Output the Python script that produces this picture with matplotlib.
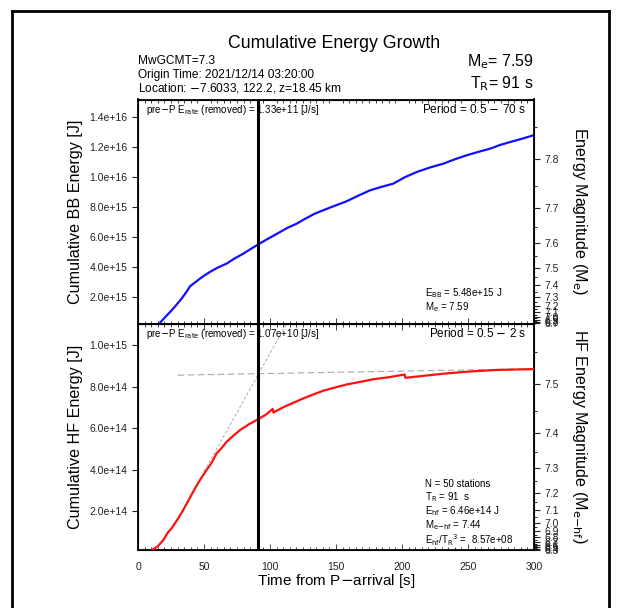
import numpy as np
import matplotlib
matplotlib.use("Agg")
import matplotlib.pyplot as plt
from matplotlib.lines import Line2D

plt.rcParams['font.family'] = ['Liberation Sans', 'DejaVu Sans']
plt.rcParams['axes.unicode_minus'] = True

# ---- data ----
bb_t = [16.2, 20.0, 25.5, 29.0, 33.0, 36.5, 39.4, 44.4, 49.0, 54.5, 60.0, 67.2, 73.0, 79.8,
        85.0, 91.2, 99.0, 107.6, 113.0, 120.2, 127.0, 134.0, 146.0, 158.0, 167.0, 175.7,
        184.0, 193.4, 202.0, 211.0, 221.0, 231.3, 240.0, 249.0, 258.0, 266.7, 274.0,
        281.8, 290.0, 299.5]
bb_e = [2.5e14, 6.2e14, 1.13e15, 1.48e15, 1.91e15, 2.33e15, 2.73e15, 3.07e15, 3.38e15,
        3.69e15, 3.96e15, 4.25e15, 4.58e15, 4.91e15, 5.20e15, 5.53e15, 5.93e15, 6.35e15,
        6.62e15, 6.91e15, 7.25e15, 7.58e15, 8.0e15, 8.40e15, 8.78e15, 9.13e15, 9.35e15,
        9.58e15, 1.0e16, 1.035e16, 1.065e16, 1.091e16, 1.12e16, 1.147e16, 1.17e16,
        1.191e16, 1.215e16, 1.235e16, 1.255e16, 1.28e16]

hf_t = [10.4, 15.0, 19.2, 22.5, 25.5, 30.0, 34.3, 39.0, 43.2, 47.5, 52.0, 55.5, 59.6,
        63.5, 67.2, 72.0, 77.3, 84.0, 91.2, 97.0, 102.0, 102.6, 110.0, 117.0, 125.3,
        132.0, 140.4, 149.0, 158.0, 168.0, 178.0, 190.0, 202.0, 202.6, 211.0, 221.0,
        233.0, 246.0, 258.0, 271.7, 285.0, 299.5]
hf_e = [1.2e13, 3.0e13, 6.0e13, 9.5e13, 1.17e14, 1.6e14, 2.05e14, 2.6e14, 3.09e14,
        3.55e14, 3.98e14, 4.3e14, 4.78e14, 5.05e14, 5.34e14, 5.62e14, 5.90e14, 6.18e14,
        6.43e14, 6.65e14, 6.92e14, 6.75e14, 7.0e14, 7.2e14, 7.43e14, 7.6e14, 7.8e14,
        7.95e14, 8.1e14, 8.22e14, 8.35e14, 8.45e14, 8.58e14, 8.42e14, 8.48e14, 8.55e14,
        8.63e14, 8.7e14, 8.75e14, 8.8e14, 8.82e14, 8.84e14]

plateau_t = [30, 300]
plateau_e = [8.55e14, 8.86e14]
slope_t = [50, 112.6]
slope_e = [3.9e14, 1.104e15]

t_r = 91
me_ticks = np.round(np.arange(6.0, 7.95, 0.1), 2)
me_minor = np.round(np.arange(6.05, 7.95, 0.1), 2)

def e_bb(me):
    return 10 ** ((np.asarray(me) + 2.9) * 1.5)

def e_hf(me):
    return 10 ** ((np.asarray(me) + 2.44) * 1.5)

W, H = 619, 608
fig = plt.figure(figsize=(W / 100, H / 100), dpi=100)

def fx(px):
    return px / W

def fy(py):
    return 1 - py / H

left = fx(138)
width = fx(534) - fx(138)
ax1 = fig.add_axes([left, fy(323.5), width, fy(99.5) - fy(323.5)])
ax2 = fig.add_axes([left, fy(550), width, fy(323.5) - fy(550)])

TC = '#222222'
for ax in (ax1, ax2):
    ax.set_xlim(0, 300)
    ax.set_xticks(np.arange(0, 301, 50))
    ax.set_xticks(np.arange(0, 301, 5), minor=True)
    ax.tick_params(axis='x', which='both', direction='in', top=True, bottom=True,
                   labelsize=7.5, length=4, width=0.6, colors=TC, pad=9)
    ax.tick_params(axis='x', which='minor', length=2.5)
    ax.tick_params(axis='y', which='both', direction='out', labelsize=7.5,
                   length=4, width=0.8, colors=TC)
    for s in ax.spines.values():
        s.set_linewidth(1.3)
    ax.axvline(t_r, color='black', lw=2.2, zorder=5)

ax1.tick_params(axis='x', labelbottom=False, top=False)

# top panel
ax1.plot(bb_t, bb_e, color='#1010ff', lw=1.6)
bb_yt = np.arange(2e15, 1.5e16, 2e15)
ax1.set_yticks(bb_yt)
ax1.set_yticklabels([f"{v:.1e}" for v in bb_yt])
ax1.set_ylim(2.5e14, 1.519e16)
ax1.set_ylabel("Cumulative BB Energy [J]", fontsize=11.6, labelpad=5)

r1 = ax1.twinx()
r1.set_yticks(e_bb(me_ticks))
r1.set_yticklabels([f"{m:.1f}" for m in me_ticks])
r1.set_yticks(e_bb(me_minor), minor=True)
r1.set_ylim(ax1.get_ylim())
r1.tick_params(axis='y', which='major', direction='out', length=4, width=0.8,
               labelsize=7.5, colors=TC)
r1.tick_params(axis='y', which='minor', direction='out', length=2.5, width=0.6)
r1.set_ylabel("Energy Magnitude (M$_{\\rm e}$)", fontsize=11.6, rotation=-90, labelpad=22)

ax1.text(0.02, 0.985, "pre$-$P E$_{\\rm rate}$ (removed) = 1.33e+11 [J/s]", transform=ax1.transAxes,
         ha='left', va='top', fontsize=7.0, zorder=6)
ax1.text(0.98, 0.985, "Period = 0.5 $-$ 70 s", transform=ax1.transAxes,
         ha='right', va='top', fontsize=8.5)
ax1.text(0.725, 0.105, "E$_{\\rm BB}$ = 5.48e+15 J\nM$_{\\rm e}$ = 7.59", transform=ax1.transAxes,
         ha='left', va='center', fontsize=7.0, linespacing=1.05)

# bottom panel
ax2.plot(hf_t, hf_e, color='#ff1010', lw=1.6, zorder=4)
ax2.plot(plateau_t, plateau_e, color='#aaaaaa', lw=0.8, ls=(0, (6, 3)), zorder=3)
ax2.plot(slope_t, slope_e, color='#aaaaaa', lw=0.7, ls=(0, (3, 2)), zorder=3)
hf_yt = np.arange(2e14, 1.05e15, 2e14)
ax2.set_yticks(hf_yt)
ax2.set_yticklabels([f"{v:.1e}" for v in hf_yt])
ax2.set_ylim(1.2e13, 1.104e15)
ax2.set_ylabel("Cumulative HF Energy [J]", fontsize=11.6, labelpad=5)
ax2.set_xlabel("Time from P$-$arrival [s]", fontsize=11, labelpad=0)

r2 = ax2.twinx()
r2.set_yticks(e_hf(me_ticks))
r2.set_yticklabels([f"{m:.1f}" for m in me_ticks])
r2.set_yticks(e_hf(me_minor), minor=True)
r2.set_ylim(ax2.get_ylim())
r2.tick_params(axis='y', which='major', direction='out', length=4, width=0.8,
               labelsize=7.5, colors=TC)
r2.tick_params(axis='y', which='minor', direction='out', length=2.5, width=0.6)
r2.set_ylabel("HF Energy Magnitude (M$_{\\rm e\\mathrm{-}hf}$)", fontsize=11.6, rotation=-90, labelpad=22)

ax2.text(0.02, 0.985, "pre$-$P E$_{\\rm rate}$ (removed) = 1.07e+10 [J/s]", transform=ax2.transAxes,
         ha='left', va='top', fontsize=7.0, zorder=6)
ax2.text(0.98, 0.985, "Period = 0.5 $-$ 2 s", transform=ax2.transAxes,
         ha='right', va='top', fontsize=8.5)
ax2.text(0.725, 0.16,
         "N = 50 stations\nT$_{\\rm R}$ = 91  s\nE$_{\\rm hf}$ = 6.46e+14 J\n"
         "M$_{\\rm e\\mathrm{-}hf}$ = 7.44\nE$_{\\rm hf}$/T$_{\\rm R}$$^3$ =  8.57e+08",
         transform=ax2.transAxes, ha='left', va='center', fontsize=7.0, linespacing=1.05)

# header texts
fig.text(fx(334), fy(43), "Cumulative Energy Growth", ha='center', va='center', fontsize=12.8)
fig.text(fx(138), fy(61), "MwGCMT=7.3", ha='left', va='center', fontsize=8.6)
fig.text(fx(138), fy(75), "Origin Time: 2021/12/14 03:20:00", ha='left', va='center', fontsize=8.6)
fig.text(fx(138), fy(88), "Location: $-$7.6033, 122.2, z=18.45 km", ha='left', va='center', fontsize=8.6)
fig.text(fx(534), fy(62), "M$_{\\rm e}$= 7.59", ha='right', va='center', fontsize=11.5)
fig.text(fx(534), fy(84), "T$_{\\rm R}$= 91 s", ha='right', va='center', fontsize=11.5)

# outer frame
frame_kw = dict(color='black', lw=2, transform=fig.transFigure, clip_on=False)
fig.add_artist(Line2D([fx(12), fx(12)], [fy(10.5), 0], **frame_kw))
fig.add_artist(Line2D([fx(12), fx(609)], [fy(10.5), fy(10.5)], **frame_kw))
fig.add_artist(Line2D([fx(609), fx(609)], [fy(10.5), 0], **frame_kw))

fig.savefig("out.png", dpi=100)
